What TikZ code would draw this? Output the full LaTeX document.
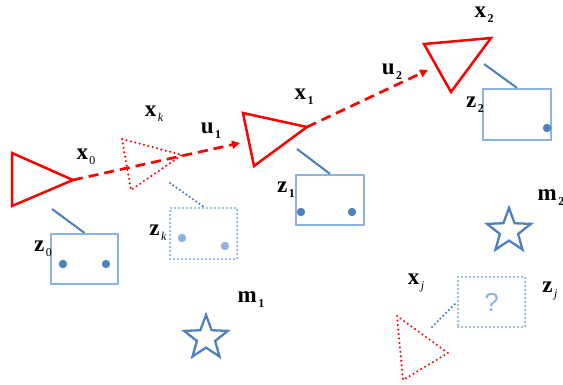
\documentclass[tikz,border=0pt]{standalone}
\usepackage{fontspec}
\setmainfont{Liberation Serif}
\usetikzlibrary{shapes.geometric,arrows.meta}
\definecolor{sblue}{HTML}{4F81BD}
\definecolor{lblue}{HTML}{8DB3E2}
\newcommand{\vlab}[2]{{\fontsize{23}{26}\selectfont\bfseries #1}\kern1.5pt\raisebox{-5pt}{\fontsize{12}{13}\selectfont #2}}
\begin{document}
\begin{tikzpicture}[x=1pt,y=-1pt,
  pose/.style={draw=red,line width=2.5pt,line join=miter},
  ghost/.style={draw=red,line width=2.3pt,dash pattern=on 0pt off 4.5pt,line cap=round},
  motion/.style={draw=red,line width=2.7pt,dash pattern=on 10pt off 6pt,-{Triangle[length=8pt,width=8pt]}},
  sensor/.style={draw=sblue,line width=2.1pt},
  sensordot/.style={draw=sblue,line width=2.5pt,dash pattern=on 0pt off 4pt,line cap=round},
  obsbox/.style={draw=lblue,line width=2.2pt},
  dotbox/.style={draw=lblue,line width=2.5pt,dash pattern=on 0pt off 4pt,line cap=round},
  lm/.style={star,star points=5,star point ratio=2.4,draw=sblue,line width=2.3pt,minimum size=46pt,inner sep=0pt},
  lab/.style={inner sep=0pt}]
\useasboundingbox (0,0) rectangle (563,385);
% poses
\draw[pose] (12,153) -- (12,206) -- (73,180) -- cycle;
\coordinate (x0) at (73,180);
\draw[ghost] (122,139) -- (131,190) -- (182,155) -- cycle;
\draw[pose] (243,113) -- (254,166) -- (307,127) -- cycle;
\coordinate (x1) at (307,127);
\coordinate (x1in) at (240,143);
\draw[pose] (424,44) -- (451,92) -- (491,38) -- cycle;
\coordinate (x2in) at (428,70);
\draw[ghost] (397,316) -- (403,380) -- (448,353) -- cycle;
% motions
\draw[motion] (x0) -- (x1in);
\draw[motion] (x1) -- (x2in);
% observation boxes
\node[obsbox,minimum width=67pt,minimum height=50pt,inner sep=0pt] (z0) at (84.5,259) {};
\node[dotbox,minimum width=67pt,minimum height=51pt,inner sep=0pt] (zk) at (203.5,233.5) {};
\node[obsbox,minimum width=68pt,minimum height=50pt,inner sep=0pt] (z1) at (330,200) {};
\node[obsbox,minimum width=68pt,minimum height=51pt,inner sep=0pt] (z2) at (517,114.5) {};
\node[dotbox,minimum width=67pt,minimum height=50pt,inner sep=0pt,text=lblue,font=\fontspec{Liberation Sans}\fontsize{26}{30}\selectfont] (zj) at (491.5,302) {?};
% sensor lines
\draw[sensor] (52,209) -- (z0.north);
\draw[sensordot] (170,183) -- (zk.north);
\draw[sensor] (297,149) -- (z1.north);
\draw[sensor] (484,64) -- (z2.north);
\draw[sensordot] (432,327) -- (zj.west);
% dots
\fill[sblue] (63,264) circle (4.2pt) (106,264) circle (4.2pt);
\fill[lblue] (182,238) circle (4.2pt) (225,246) circle (4.2pt);
\fill[sblue] (301,212) circle (4.2pt) (352,212) circle (4.2pt);
\fill[sblue] (547,128) circle (4.2pt);
% landmarks
\node[lm] (m1) at (206,338) {};
\node[lm] (m2) at (509,231) {};
% labels
\node[lab] (lx0) at (86,157) {\vlab{x}{0}};
\node[lab] (lxk) at (154,114) {\vlab{x}{\itshape k}};
\node[lab] (lu1) at (211,131) {\vlab{u}{\bfseries 1}};
\node[lab] (lx1) at (304,97) {\vlab{x}{\bfseries 1}};
\node[lab] (lu2) at (392,72) {\vlab{u}{\bfseries 2}};
\node[lab] (lx2) at (484,15) {\vlab{x}{\bfseries 2}};
\node[lab] (lz2) at (475,105) {\vlab{z}{\bfseries 2}};
\node[lab] (lz1) at (286,190) {\vlab{z}{\bfseries 1}};
\node[lab] (lzk) at (158,233) {\vlab{z}{\itshape k}};
\node[lab] (lz0) at (43,249) {\vlab{z}{0}};
\node[lab] (lm1) at (251,300) {\vlab{m}{\bfseries 1}};
\node[lab] (lm2) at (551,198) {\vlab{m}{\bfseries 2}};
\node[lab] (lxj) at (416,283) {\vlab{x}{\itshape j}};
\node[lab] (lzj) at (550,291) {\vlab{z}{\itshape j}};
\end{tikzpicture}
\end{document}
